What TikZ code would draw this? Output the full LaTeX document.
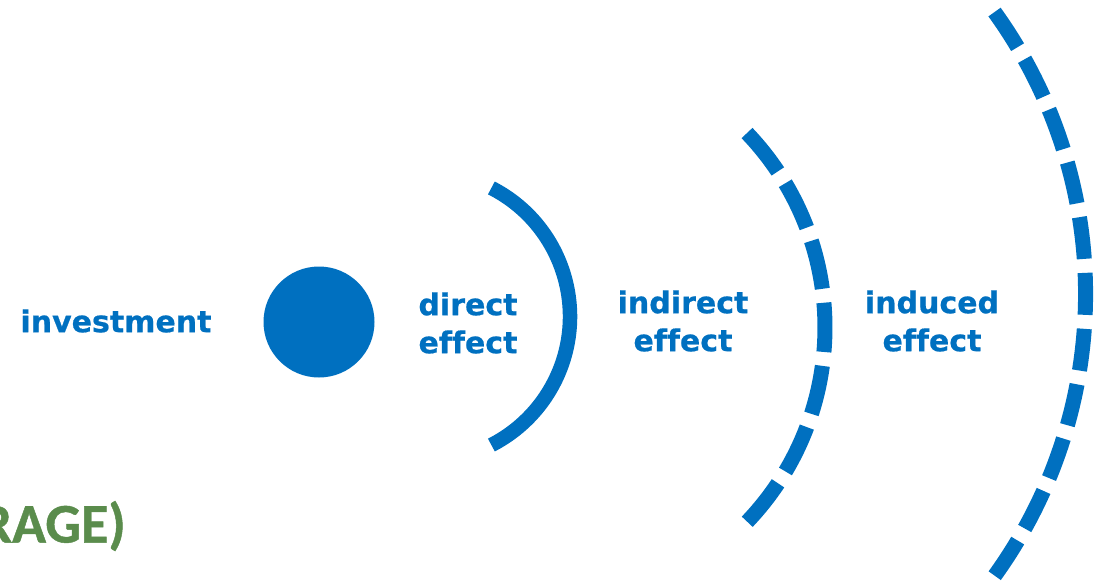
\documentclass[tikz,border=0pt]{standalone}
\usepackage{fontspec}
\usepackage{xcolor}
\usepackage{tikz}
\newfontfamily\lblfont[Ligatures=NoCommon, FakeBold=0.6]{DejaVu Sans}
\newfontfamily\bannerfont[FakeBold=0.8]{Carlito}
\definecolor{wave}{HTML}{0070C0}
\definecolor{banner}{HTML}{5A8C4C}
\tikzset{
  effect/.style={text=wave, align=center, inner sep=0pt,
    font=\lblfont\bfseries\fontsize{30}{38}\selectfont},
}

\begin{document}
\begin{tikzpicture}[x=1pt, y=-1pt]
  \useasboundingbox (0,0) rectangle (1104,584);
  % source
  \node[circle, fill=wave, inner sep=0pt, minimum size=111pt] (dot) at (319,322) {};
  \node[effect] (invest) at (116,321) {investment};
  % ripples
  \draw[wave, line width=14.5pt] (425.6,316.5) ++(-62.9:144.4) arc[start angle=-62.9, end angle=62.9, radius=144.4];
  \draw[wave, line width=15pt, dash pattern=on 49.3pt off 14pt] (543.5,327.5) ++(-43.7:281.5) arc[start angle=-43.7, end angle=43.7, radius=281.5];
  \draw[wave, line width=15pt, dash pattern=on 42pt off 14pt] (603.6,294) ++(-35.8:482) arc[start angle=-35.8, end angle=35.8, radius=482];
  % labels
  \node[effect] (direct) at (468,323) {direct\\effect};
  \node[effect] (indirect) at (683,321) {indirect\\effect};
  \node[effect] (induced) at (932,321) {induced\\effect};
  \node[text=banner, anchor=east, inner sep=0pt, font=\bannerfont\bfseries\fontsize{56}{60}\selectfont] (rage) at (126,526) {RAGE)};
\end{tikzpicture}
\end{document}
